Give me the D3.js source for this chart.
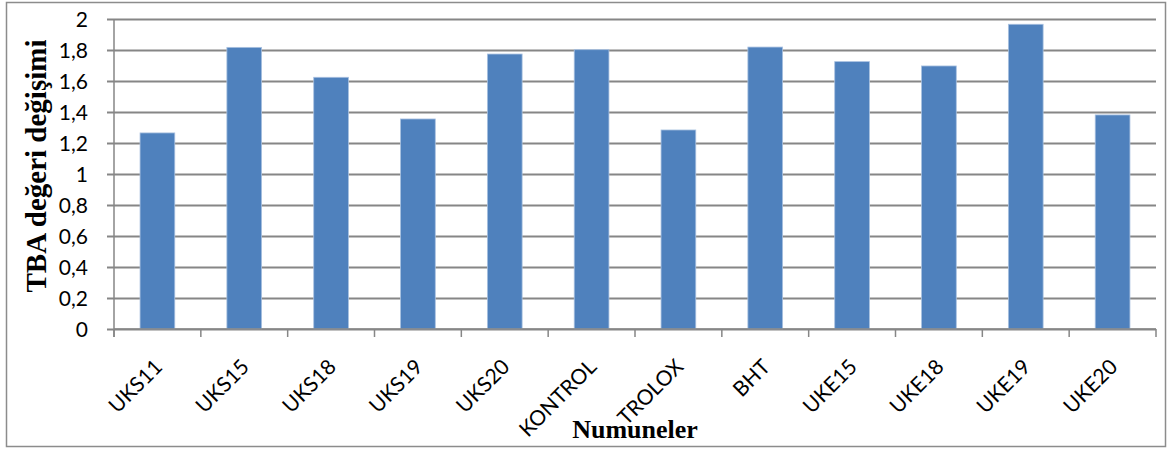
<!DOCTYPE html>
<html>
<head>
<meta charset="utf-8">
<script src="https://cdn.jsdelivr.net/npm/d3@7"></script>
<style>
  html, body { margin: 0; padding: 0; background: #fff; }
  svg { display: block; }
</style>
</head>
<body>
<svg id="chart" width="1168" height="450"></svg>
<script>
// Sample names and their TBA change values
const categories = ["UKS11", "UKS15", "UKS18", "UKS19", "UKS20", "KONTROL", "TROLOX", "BHT", "UKE15", "UKE18", "UKE19", "UKE20"];
const values = [1.265, 1.817, 1.624, 1.355, 1.774, 1.802, 1.284, 1.819, 1.725, 1.697, 1.966, 1.381];
const yTicks = [0, 0.2, 0.4, 0.6, 0.8, 1, 1.2, 1.4, 1.6, 1.8, 2];
const yTitle = "TBA değeri değişimi";
const xTitle = "Numuneler";

const plot = { left: 114, right: 1156, top: 19, bottom: 329 };

const svg = d3.select("#chart");

// outer frame
svg.append("rect")
  .attr("x", 6.5).attr("y", 2.5)
  .attr("width", 1159).attr("height", 444)
  .attr("fill", "#fff")
  .attr("stroke", "#8c8c8c")
  .attr("stroke-width", 1.5);

const x = d3.scaleBand()
  .domain(categories)
  .range([plot.left, plot.right])
  .paddingInner(0.6)
  .paddingOuter(0.3);

const xBoundary = d3.scaleLinear()
  .domain([0, categories.length])
  .range([plot.left, plot.right]);

const y = d3.scaleLinear()
  .domain([0, 2])
  .range([plot.bottom, plot.top]);

const fmt = v => String(v).replace(".", ",");
const gridColor = "#868686";
const labelFont = "Lato, 'Open Sans', sans-serif";
const titleFont = "'Liberation Serif', 'Times New Roman', serif";

// horizontal gridlines with tick labels
const yAxis = d3.axisLeft(y)
  .tickValues(yTicks)
  .tickFormat(fmt)
  .tickSize(-(plot.right - plot.left))
  .tickPadding(0);

const gy = svg.append("g")
  .attr("transform", `translate(${plot.left},0)`)
  .call(yAxis);
gy.select(".domain").remove();
gy.selectAll(".tick line")
  .attr("x1", -7)
  .attr("stroke", gridColor)
  .attr("stroke-width", 2);
gy.selectAll(".tick text")
  .attr("x", -26)
  .attr("dy", "0.36em")
  .attr("fill", "#000")
  .style("font-family", labelFont)
  .style("font-size", "21px");

// vertical axis line
svg.append("line")
  .attr("x1", plot.left).attr("x2", plot.left)
  .attr("y1", plot.top).attr("y2", plot.bottom + 8)
  .attr("stroke", gridColor)
  .attr("stroke-width", 1.5);

// bars
svg.append("g")
  .selectAll("rect")
  .data(values)
  .join("rect")
  .attr("x", (d, i) => x(categories[i]))
  .attr("y", d => y(d))
  .attr("width", x.bandwidth())
  .attr("height", d => y(0) - y(d))
  .attr("fill", "#4f81bd")
  .attr("stroke", "#a9c1e0")
  .attr("stroke-width", 0.8);

// category axis: baseline and boundary ticks
svg.append("line")
  .attr("x1", plot.left).attr("x2", plot.right)
  .attr("y1", plot.bottom).attr("y2", plot.bottom)
  .attr("stroke", gridColor)
  .attr("stroke-width", 1.5);

svg.append("g")
  .selectAll("line")
  .data(d3.range(categories.length + 1))
  .join("line")
  .attr("x1", d => xBoundary(d)).attr("x2", d => xBoundary(d))
  .attr("y1", plot.bottom).attr("y2", plot.bottom + 8)
  .attr("stroke", gridColor)
  .attr("stroke-width", 1.5);

// rotated category labels
svg.append("g")
  .selectAll("text")
  .data(categories)
  .join("text")
  .attr("transform", d => `translate(${x(d) + x.bandwidth() / 2 + 1},${plot.bottom + 34}) rotate(-45)`)
  .attr("text-anchor", "end")
  .attr("dy", "0.35em")
  .attr("fill", "#000")
  .style("font-family", labelFont)
  .style("font-size", "21px")
  .text(d => d);

// axis titles
svg.append("text")
  .attr("transform", `translate(46,166) rotate(-90)`)
  .attr("text-anchor", "middle")
  .attr("fill", "#000")
  .style("font-family", titleFont)
  .style("font-weight", "bold")
  .style("font-size", "29px")
  .text(yTitle);

svg.append("text")
  .attr("x", 635).attr("y", 438)
  .attr("text-anchor", "middle")
  .attr("fill", "#000")
  .style("font-family", titleFont)
  .style("font-weight", "bold")
  .style("font-size", "26px")
  .text(xTitle);
</script>
</body>
</html>
